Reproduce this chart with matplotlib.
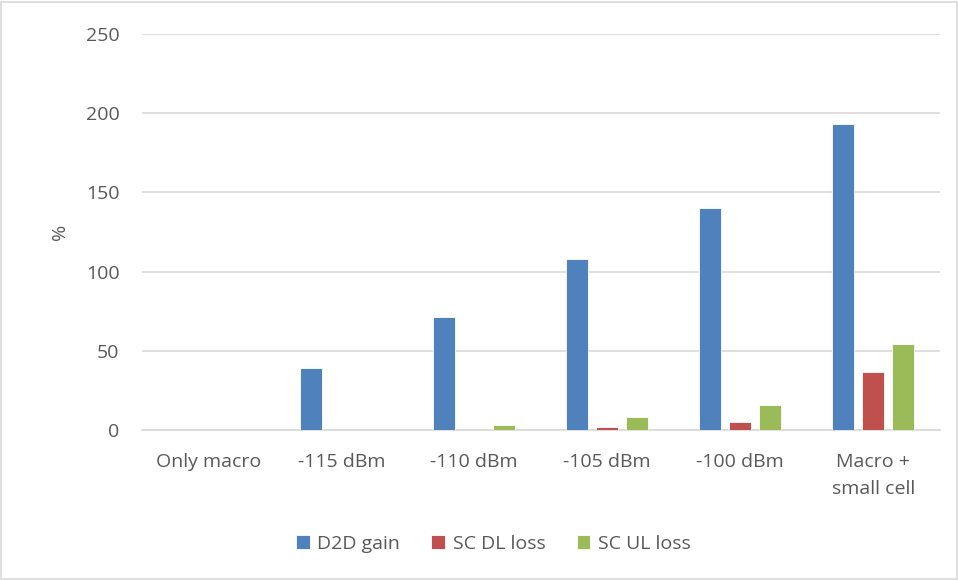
import numpy as np
import matplotlib.pyplot as plt

categories = ['Only macro', '-115 dBm', '-110 dBm', '-105 dBm', '-100 dBm', 'Macro +\nsmall cell']
d2d_gain = [0, 39, 71, 108, 140, 193]
sc_dl_loss = [0, 0, 0, 2, 5, 36.5]
sc_ul_loss = [0, 0, 3, 8, 15.5, 54]

plt.rcParams['font.family'] = ['Open Sans', 'DejaVu Sans']
txt = '#595959'

fig = plt.figure(figsize=(9.58, 5.8), dpi=100, facecolor='white')
ax = fig.add_axes([0.148, 0.259, 0.833, 0.682])

x = np.arange(len(categories))
w = 0.165
d = 0.226
ax.bar(x - d, d2d_gain, w, color='#4f81bd', edgecolor='white', linewidth=0.6, label='D2D gain', zorder=3)
ax.bar(x, sc_dl_loss, w, color='#c0504d', edgecolor='white', linewidth=0.6, label='SC DL loss', zorder=3)
ax.bar(x + d, sc_ul_loss, w, color='#9bbb59', edgecolor='white', linewidth=0.6, label='SC UL loss', zorder=3)

ax.set_xlim(-0.5, len(categories) - 0.5)
ax.set_ylim(0, 250)
ax.set_yticks(range(0, 251, 50))
ax.yaxis.grid(True, color='#d9d9d9', linewidth=1.2, zorder=0)
for s in ['top', 'right', 'left']:
    ax.spines[s].set_visible(False)
ax.spines['bottom'].set_color('#d9d9d9')
ax.spines['bottom'].set_linewidth(1.2)
ax.tick_params(axis='both', length=0, labelsize=14, colors=txt)
ax.set_xticks(x)
ax.set_xticklabels(categories, linespacing=1.6)
ax.tick_params(axis='x', pad=17)
ax.tick_params(axis='y', pad=16)
ax.set_ylabel('%', fontsize=14, color=txt, labelpad=12)

fig.legend(loc='center', bbox_to_anchor=(0.515, 0.062), ncol=3, frameon=False,
           fontsize=14, labelcolor=txt, handlelength=0.7, handleheight=0.7,
           columnspacing=1.6, handletextpad=0.4)

fig.patches.append(plt.Rectangle((0.001, 0.001), 0.998, 0.996, transform=fig.transFigure,
                                 fill=False, edgecolor='#d9d9d9', linewidth=1.2))

fig.savefig('out.png', dpi=100, facecolor='white')
